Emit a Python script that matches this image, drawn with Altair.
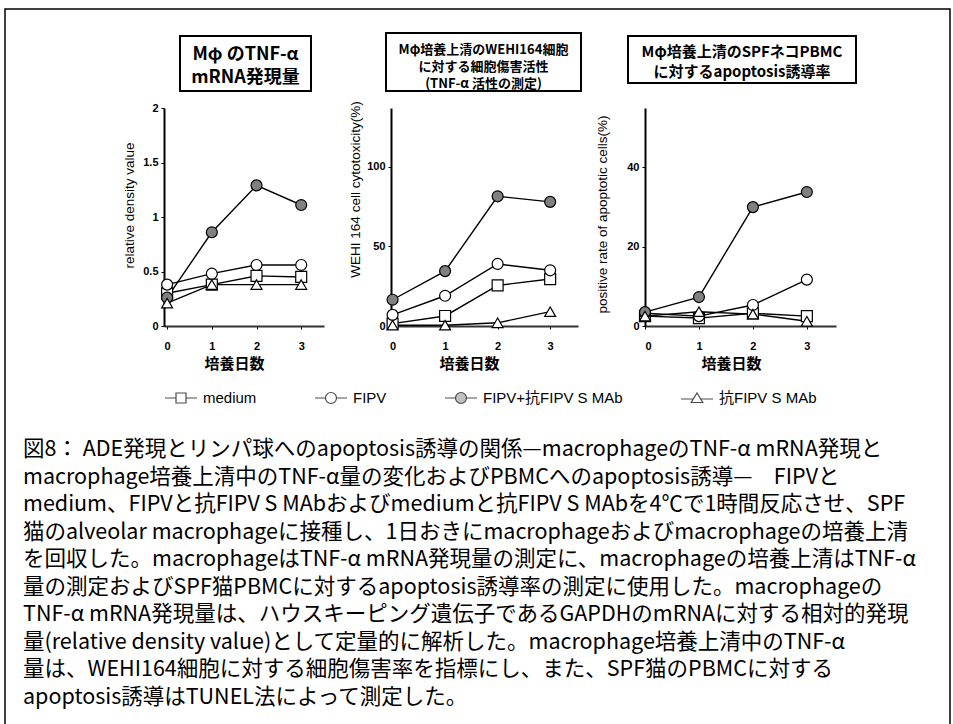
import altair as alt
import pandas as pd

# ---------------- data ----------------
days = [0, 1, 2, 3]
series = ["medium", "FIPV", "FIPV+抗FIPV S MAb", "抗FIPV S MAb"]

# panel 1: relative density value
rd_medium = [0.30, 0.38, 0.46, 0.45]
rd_fipv = [0.38, 0.48, 0.56, 0.56]
rd_fipv_mab = [0.26, 0.86, 1.29, 1.11]
rd_mab = [0.21, 0.38, 0.38, 0.38]

# panel 2: WEHI 164 cell cytotoxicity (%)
cy_medium = [1.5, 6.3, 25.5, 29.5]
cy_fipv = [7.0, 19.0, 39.0, 35.0]
cy_fipv_mab = [16.5, 34.5, 81.5, 78.0]
cy_mab = [0.5, 0.5, 2.0, 9.0]

# panel 3: positive rate of apoptotic cells (%)
ap_medium = [2.5, 2.0, 3.2, 2.5]
ap_fipv = [3.2, 2.5, 5.3, 11.7]
ap_fipv_mab = [3.5, 7.3, 30.0, 33.8]
ap_mab = [2.5, 3.6, 3.0, 1.2]

rd_ticks = [0, 0.5, 1, 1.5, 2]
cy_ticks = [0, 50, 100]
ap_ticks = [0, 20, 40]

title1 = ["Mφ のTNF-α", "mRNA発現量"]
title2 = ["Mφ培養上清のWEHI164細胞", "に対する細胞傷害活性", "(TNF-α 活性の測定)"]
title3 = ["Mφ培養上清のSPFネコPBMC", "に対するapoptosis誘導率"]

ytitle1 = "relative density value"
ytitle2 = "WEHI 164 cell cytotoxicity(%)"
ytitle3 = "positive rate of apoptotic cells(%)"
xtitle = "培養日数"

caption = [
    "図8： ADE発現とリンパ球へのapoptosis誘導の関係—macrophageのTNF-α mRNA発現と",
    "macrophage培養上清中のTNF-α量の変化およびPBMCへのapoptosis誘導—　FIPVと",
    "medium、FIPVと抗FIPV S MAbおよびmediumと抗FIPV S MAbを4℃で1時間反応させ、SPF",
    "猫のalveolar macrophageに接種し、1日おきにmacrophageおよびmacrophageの培養上清",
    "を回収した。macrophageはTNF-α mRNA発現量の測定に、macrophageの培養上清はTNF-α",
    "量の測定およびSPF猫PBMCに対するapoptosis誘導率の測定に使用した。macrophageの",
    "TNF-α mRNA発現量は、ハウスキーピング遺伝子であるGAPDHのmRNAに対する相対的発現",
    "量(relative density value)として定量的に解析した。macrophage培養上清中のTNF-α",
    "量は、WEHI164細胞に対する細胞傷害率を指標にし、また、SPF猫のPBMCに対する",
    "apoptosis誘導はTUNEL法によって測定した。",
]

# ---------------- styling ----------------
JP = "Noto Sans CJK JP"
LAT = "Liberation Sans, Noto Sans CJK JP"
point_shapes = ["square", "circle", "circle", "triangle-up"]
point_fills = ["white", "white", "#808080", "white"]
point_strokes = ["black", "black", "black", "black"]
legend_paths = [
    "M-1.6,0H-0.5M0.5,0H1.6M-0.5,-0.5H0.5V0.5H-0.5Z",
    "M-1.6,0H-0.55M0.55,0H1.6M-0.55,0A0.55,0.55,0,1,0,0.55,0A0.55,0.55,0,1,0,-0.55,0Z",
    "M-1.6,0H-0.55M0.55,0H1.6M-0.55,0A0.55,0.55,0,1,0,0.55,0A0.55,0.55,0,1,0,-0.55,0Z",
    "M-1.6,0.1H-0.42M0.42,0.1H1.6M0,-0.5L0.58,0.45L-0.58,0.45Z",
]


def to_long(vals_list):
    rows = []
    for name, vals in zip(series, vals_list):
        for d, v in zip(days, vals):
            rows.append({"day": d, "value": v, "series": name})
    return pd.DataFrame(rows)


one = pd.DataFrame({"k": [0]})


def rect(x0, x1, y0, y1, sw, fill="white", fo=1.0):
    return alt.Chart(one).mark_rect(
        fill=fill, fillOpacity=fo, stroke="black", strokeWidth=sw
    ).encode(x=alt.value(x0), x2=alt.value(x1), y=alt.value(y0), y2=alt.value(y1))


def textblock(lines, x, y, size, lh, weight="bold", font=JP, align="center"):
    return alt.Chart(one).mark_text(
        align=align, baseline="top", fontSize=size, lineHeight=lh,
        font=font, fontWeight=weight, color="black"
    ).encode(x=alt.value(x), y=alt.value(y), text=alt.value(lines))


def panel(df, width, xdom, ymax, yticks, yfmt, ytitle, ytx, yty, xtx, extras_before, extras_after):
    x = alt.X(
        "day:Q",
        scale=alt.Scale(domain=xdom, nice=False, zero=False),
        axis=alt.Axis(
            values=days, format="d", title=xtitle, titleX=xtx, titleY=30,
            titleBaseline="top", titleAlign="center",
            titleFont=JP, titleFontSize=15, titleFontWeight="bold", titleColor="black",
            labelFont="Liberation Sans", labelFontSize=11, labelFontWeight="bold",
            labelColor="black", labelPadding=11, tickSize=3, tickColor="black",
            domainColor="#333333", domainWidth=2, grid=False,
        ),
    )
    y = alt.Y(
        "value:Q",
        scale=alt.Scale(domain=[0, ymax], nice=False, zero=True),
        axis=alt.Axis(
            values=yticks, format=yfmt, title=ytitle, titleX=ytx, titleY=yty,
            titleBaseline="bottom", titleAlign="center",
            titleFont="Liberation Sans", titleFontSize=13.5, titleFontWeight="normal",
            titleColor="black",
            labelFont="Liberation Sans", labelFontSize=11, labelFontWeight="bold",
            labelColor="black", labelPadding=3, tickSize=3, tickColor="black",
            domainColor="black", domainWidth=2, grid=False,
        ),
    )
    base = alt.Chart(df)
    lines = base.mark_line(color="black", strokeWidth=1.4).encode(
        x=x, y=y, detail="series:N", order="day:Q"
    )
    pts = base.mark_point(filled=True, size=120, stroke="black", strokeWidth=1.2, opacity=1).encode(
        x=x, y=y,
        shape=alt.Shape("series:N", scale=alt.Scale(domain=series, range=point_shapes), legend=None),
        fill=alt.Fill("series:N", scale=alt.Scale(domain=series, range=point_fills), legend=None),
    )
    layers = extras_before + [lines, pts] + extras_after
    return alt.layer(*layers).properties(width=width, height=218)


df1 = to_long([rd_medium, rd_fipv, rd_fipv_mab, rd_mab])
df2 = to_long([cy_medium, cy_fipv, cy_fipv_mab, cy_mab])
df3 = to_long([ap_medium, ap_fipv, ap_fipv_mab, ap_mab])

leg = alt.Legend(
    title=None, orient="none", legendX=6, legendY=279, direction="horizontal",
    columns=4, symbolSize=400, labelFont=LAT, labelFontSize=15, labelColor="black",
    labelOffset=11, columnPadding=55, symbolStrokeColor="black", symbolStrokeWidth=1.2,
    padding=0, labelLimit=400,
)
legend_layer = alt.Chart(df1).transform_filter("false").mark_point(
    filled=True, strokeWidth=1.2
).encode(
    x=alt.X("day:Q"), y=alt.Y("value:Q"),
    shape=alt.Shape("series:N", scale=alt.Scale(domain=series, range=legend_paths), legend=leg),
    fill=alt.Fill("series:N", scale=alt.Scale(domain=series, range=point_fills), legend=leg),
    stroke=alt.Stroke("series:N", scale=alt.Scale(domain=series, range=point_strokes), legend=leg),
)

p1 = panel(
    df1, 160, [-0.07, 3.51], 2, rd_ticks, "~g", ytitle1, -28, 97, 70,
    [rect(-159, 786, -99, 622, 1.5, fill="white", fo=0.0),
     rect(16, 147, -72, -17, 2),
     textblock(title1, 81.5, -62, 18, 23),
     textblock(caption, -141, 331, 21.5, 27.5, weight="normal", align="left")],
    [legend_layer],
).resolve_scale(shape="independent", fill="independent", stroke="independent")

p2 = panel(
    df2, 187, [-0.03, 3.53], 137, cy_ticks, "d", ytitle2, -29, 81, 78,
    [rect(-5, 190, -75, -17, 2),
     textblock(title2, 92.5, -64, 13, 17)],
    [],
)

p3 = panel(
    df3, 191, [0, 3.54], 55, ap_ticks, "d", ytitle3, -36, 106, 86,
    [rect(-17, 211, -72, -25, 2),
     textblock(title3, 97, -63, 15, 20)],
    [],
)

chart = alt.hconcat(p1, p2, p3, spacing=67, bounds="flush").resolve_scale(
    x="independent", y="independent", shape="independent", fill="independent",
    stroke="independent"
).resolve_legend(shape="independent", fill="independent", stroke="independent").properties(
    padding={"left": 3, "top": 7, "right": 0, "bottom": 0}
).configure_view(stroke="transparent")

chart.save("out.html", embed_options={"renderer": "svg", "actions": False})
